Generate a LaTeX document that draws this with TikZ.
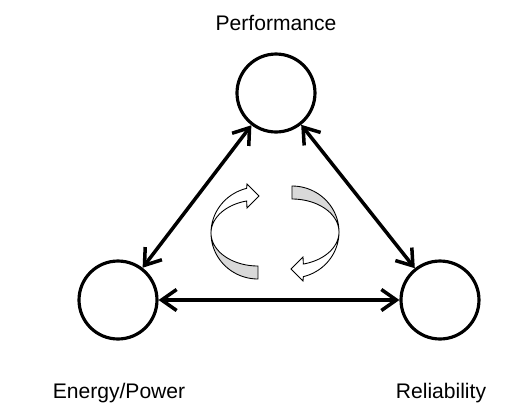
\documentclass[tikz,border=0pt]{standalone}
\usepackage{fontspec}
\setmainfont{Liberation Sans}
\usetikzlibrary{arrows.meta}

% one half of the circular "swirl", drawn around the origin
\newcommand{\swirlhalf}{%
    % back face (grey), lower part
    \filldraw[swirlback]
        plot[domain=180:270, samples=30] ({47*cos(\x)}, {-46*sin(\x)})
        -- (0,33)
        -- plot[domain=270:180, samples=30] ({47*cos(\x)}, {-33*sin(\x)})
        -- cycle;
    % front face (white) with the arrow head
    \filldraw[swirlfront]
        plot[domain=180:104, samples=30] ({47*cos(\x)}, {-46*sin(\x)})
        -- (-11,-49) -- (1,-37) -- (-11,-25)
        -- plot[domain=104:180, samples=30] ({47*cos(\x)}, {-33*sin(\x)})
        -- cycle;
}

\begin{document}
\begin{tikzpicture}[
    x=0.02cm, y=-0.02cm,
    % --- styles ---
    metric/.style={
        draw=black, circle, line width=1.8pt,
        minimum size=1.56cm, inner sep=0pt},
    caption/.style={
        anchor=base, font=\fontsize{12}{14}\selectfont},
    link/.style={
        {Straight Barb[length=3mm, width=4.2mm]}-{Straight Barb[length=3mm, width=4.2mm]},
        line width=2pt, black},
    swirlback/.style={draw=black, line width=0.5pt, fill=black!15},
    swirlfront/.style={draw=black, line width=0.5pt, fill=white},
]
\useasboundingbox (0,0) rectangle (512,414);

% ===== METRICS =====
\node[metric] (perf) at (276,93) {};
\node[metric] (energy) at (118,300) {};
\node[metric] (reli) at (440,300) {};

\node[caption] (perflabel) at (276,30) {Performance};
\node[caption] (energylabel) at (119,398) {Energy/Power};
\node[caption] (relilabel) at (441,398) {Reliability};

% ===== TRADE-OFF ARROWS =====
\draw[link] (perf) -- (energy);
\draw[link] (perf) -- (reli);
\draw[link] (energy) -- (reli);

% ===== SWIRL IN THE MIDDLE =====
\begin{scope}[shift={(258,233)}]
    \swirlhalf
\end{scope}
\begin{scope}[shift={(292,232)}, rotate=180]
    \swirlhalf
\end{scope}

\end{tikzpicture}
\end{document}
